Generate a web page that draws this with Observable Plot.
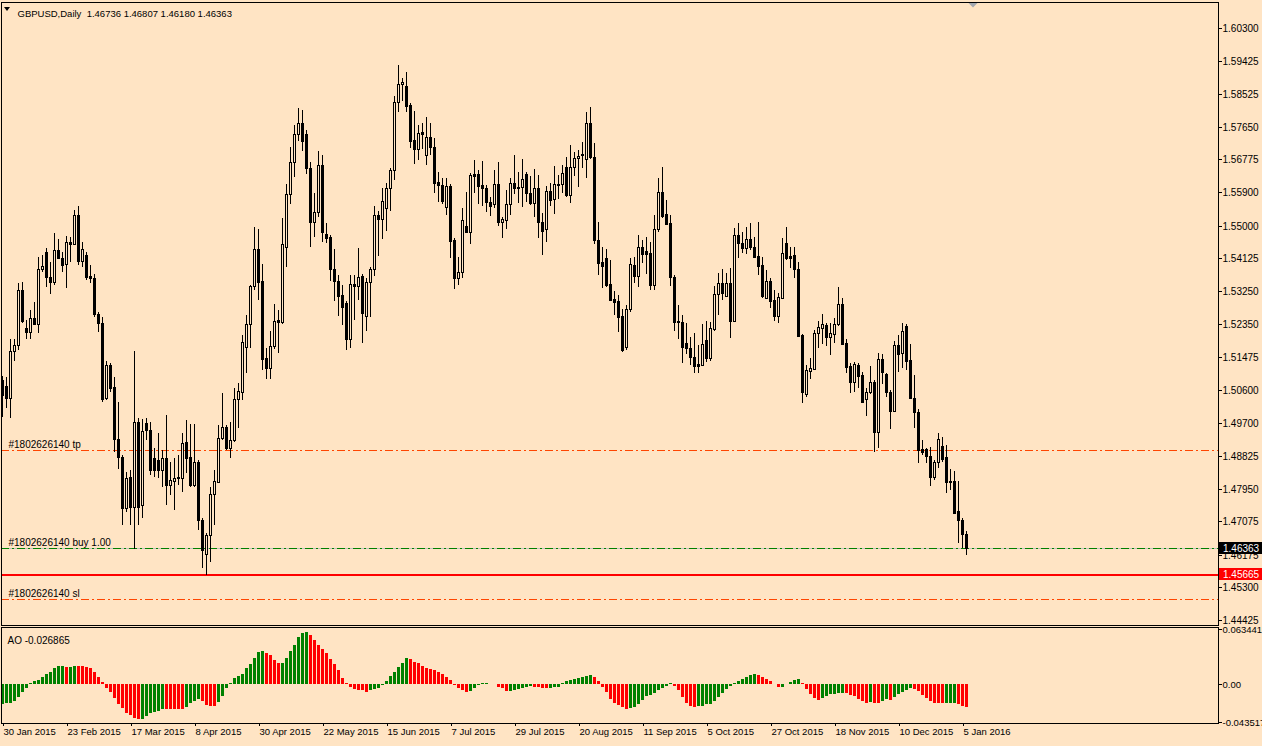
<!DOCTYPE html>
<html><head><meta charset="utf-8">
<script src="https://cdn.jsdelivr.net/npm/d3@7"></script>
<script src="https://cdn.jsdelivr.net/npm/@observablehq/plot@0.6"></script>
<style>
html,body{margin:0;padding:0;background:#FFE4C4;}
#wrap{position:relative;width:1262px;height:746px;overflow:hidden;background:#FFE4C4;}
#wrap svg{position:absolute;left:0;}
</style></head><body><div id="wrap"></div>
<script>
const symbolName = "GBPUSD,Daily";
const orderId = "#1802626140";
const dateLabels = ["30 Jan 2015","23 Feb 2015","17 Mar 2015","8 Apr 2015","30 Apr 2015","22 May 2015","15 Jun 2015","7 Jul 2015","29 Jul 2015","20 Aug 2015","11 Sep 2015","5 Oct 2015","27 Oct 2015","18 Nov 2015","10 Dec 2015","5 Jan 2016"];
const barsPerLabel = 16;
const priceTicks = [1.60300,1.59425,1.58525,1.57650,1.56775,1.55900,1.55000,1.54125,1.53250,1.52350,1.51475,1.50600,1.49700,1.48825,1.47950,1.47075,1.46175,1.45300,1.44425];
const aoTicks = [0.063441, 0, -0.043517];
const tpLevel = 1.4898, buyLevel = 1.46363, slLevel = 1.4499, bidLevel = 1.46363, redLevel = 1.45665;

const opens = [1.5086,1.5070,1.5038,1.5164,1.5180,1.5327,1.5226,1.5215,1.5252,1.5236,1.5384,1.5429,1.5362,1.5349,1.5435,1.5413,1.5397,1.5456,1.5451,1.5529,1.5405,1.5421,1.5365,1.5360,1.5263,1.5239,1.5038,1.5126,1.5067,1.4928,1.4880,1.4743,1.4826,1.4746,1.4973,1.4751,1.4971,1.4952,1.4877,1.4872,1.4845,1.4877,1.4805,1.4815,1.4826,1.4823,1.4920,1.4880,1.4805,1.4866,1.4711,1.4620,1.4670,1.4780,1.4813,1.4931,1.4960,1.4904,1.4925,1.5035,1.5054,1.5175,1.5236,1.5338,1.5437,1.5351,1.5145,1.5118,1.5177,1.5247,1.5242,1.5443,1.5585,1.5671,1.5746,1.5775,1.5746,1.5654,1.5510,1.5536,1.5663,1.5478,1.5470,1.5384,1.5351,1.5314,1.5292,1.5196,1.5344,1.5338,1.5365,1.5258,1.5349,1.5384,1.5529,1.5518,1.5547,1.5601,1.5649,1.5832,1.5880,1.5875,1.5823,1.5730,1.5705,1.5751,1.5689,1.5738,1.5711,1.5617,1.5609,1.5550,1.5606,1.5462,1.5360,1.5376,1.5499,1.5483,1.5638,1.5638,1.5609,1.5601,1.5563,1.5558,1.5612,1.5510,1.5515,1.5558,1.5614,1.5604,1.5604,1.5638,1.5588,1.5561,1.5601,1.5510,1.5491,1.5593,1.5571,1.5612,1.5612,1.5657,1.5582,1.5657,1.5681,1.5692,1.5679,1.5775,1.5684,1.5462,1.5403,1.5413,1.5344,1.5303,1.5298,1.5258,1.5175,1.5276,1.5395,1.5365,1.5443,1.5432,1.5427,1.5341,1.5491,1.5590,1.5531,1.5507,1.5362,1.5244,1.5242,1.5185,1.5172,1.5148,1.5129,1.5126,1.5193,1.5145,1.5223,1.5317,1.5346,1.5311,1.5346,1.5244,1.5475,1.5454,1.5440,1.5464,1.5443,1.5419,1.5395,1.5306,1.5351,1.5301,1.5258,1.5306,1.5454,1.5419,1.5421,1.5384,1.5207,1.5049,1.5110,1.5116,1.5212,1.5226,1.5234,1.5201,1.5209,1.5236,1.5290,1.5185,1.5124,1.5081,1.5126,1.5099,1.5035,1.5054,1.5081,1.4947,1.5142,1.5102,1.5054,1.5003,1.5180,1.5158,1.5231,1.5140,1.5038,1.5000,1.4901,1.4901,1.4882,1.4826,1.4866,1.4909,1.4880,1.4815,1.4815,1.4735,1.4711,1.46736];
const highs = [1.5097,1.5094,1.5196,1.5196,1.5346,1.5349,1.5247,1.5274,1.5295,1.5416,1.5421,1.5440,1.5403,1.5480,1.5464,1.5429,1.5472,1.5469,1.5542,1.5553,1.5456,1.5429,1.5395,1.5370,1.5268,1.5255,1.5137,1.5132,1.5094,1.5027,1.4885,1.4839,1.4845,1.5164,1.4984,1.4982,1.4984,1.4973,1.4904,1.4944,1.4898,1.4992,1.4866,1.4877,1.4885,1.4944,1.4979,1.4968,1.4968,1.4872,1.4716,1.4676,1.4799,1.4845,1.4965,1.5051,1.4965,1.4973,1.5065,1.5078,1.5207,1.5260,1.5341,1.5496,1.5491,1.5397,1.5172,1.5217,1.5290,1.5274,1.5520,1.5612,1.5711,1.5770,1.5815,1.5810,1.5756,1.5671,1.5588,1.5700,1.5689,1.5507,1.5475,1.5437,1.5368,1.5341,1.5298,1.5368,1.5368,1.5440,1.5370,1.5360,1.5389,1.5553,1.5539,1.5601,1.5614,1.5654,1.5848,1.5931,1.5896,1.5912,1.5829,1.5807,1.5770,1.5775,1.5791,1.5775,1.5735,1.5644,1.5628,1.5628,1.5612,1.5467,1.5416,1.5547,1.5591,1.5641,1.5676,1.5649,1.5673,1.5609,1.5577,1.5649,1.5671,1.5523,1.5596,1.5628,1.5689,1.5644,1.5679,1.5644,1.5633,1.5652,1.5636,1.5534,1.5606,1.5614,1.5660,1.5636,1.5663,1.5684,1.5716,1.5697,1.5703,1.5724,1.5805,1.5818,1.5722,1.5510,1.5443,1.5437,1.5408,1.5325,1.5314,1.5276,1.5287,1.5413,1.5416,1.5475,1.5462,1.5470,1.5456,1.5529,1.5628,1.5657,1.5569,1.5529,1.5368,1.5287,1.5260,1.5239,1.5201,1.5212,1.5180,1.5236,1.5244,1.5242,1.5338,1.5373,1.5384,1.5373,1.5386,1.5494,1.5507,1.5483,1.5496,1.5507,1.5470,1.5510,1.5416,1.5381,1.5360,1.5327,1.5319,1.5467,1.5496,1.5443,1.5443,1.5403,1.5209,1.5126,1.5145,1.5220,1.5244,1.5263,1.5239,1.5239,1.5252,1.5335,1.5306,1.5196,1.5132,1.5134,1.5132,1.5108,1.5065,1.5124,1.5086,1.5158,1.5156,1.5105,1.5059,1.5191,1.5207,1.5239,1.5236,1.5183,1.5099,1.5008,1.4925,1.4904,1.4907,1.4872,1.4944,1.4933,1.4912,1.4847,1.4842,1.4815,1.4716,1.46807];
const lows = [1.4987,1.5011,1.4984,1.5137,1.5167,1.5239,1.5196,1.5196,1.5234,1.5212,1.5376,1.5335,1.5317,1.5341,1.5411,1.5376,1.5333,1.5403,1.5448,1.5395,1.5389,1.5354,1.5346,1.5255,1.5215,1.5027,1.5032,1.5054,1.4893,1.4847,1.4697,1.4732,1.4697,1.4633,1.4697,1.4716,1.4925,1.4831,1.4826,1.4823,1.4799,1.4751,1.4778,1.4737,1.4805,1.4786,1.4837,1.4799,1.4799,1.4684,1.4582,1.4563,1.4598,1.4697,1.4810,1.4925,1.4898,1.4877,1.4920,1.4957,1.5032,1.5105,1.5172,1.5327,1.5301,1.5113,1.5089,1.5089,1.5169,1.5158,1.5236,1.5389,1.5558,1.5630,1.5727,1.5700,1.5638,1.5443,1.5470,1.5523,1.5456,1.5454,1.5351,1.5298,1.5258,1.5234,1.5167,1.5172,1.5247,1.5301,1.5185,1.5217,1.5255,1.5365,1.5419,1.5464,1.5486,1.5539,1.5622,1.5805,1.5834,1.5805,1.5708,1.5665,1.5676,1.5705,1.5663,1.5689,1.5588,1.5563,1.5558,1.5529,1.5413,1.5330,1.5341,1.5360,1.5480,1.5451,1.5588,1.5558,1.5553,1.5536,1.5526,1.5547,1.5499,1.5467,1.5491,1.5529,1.5585,1.5561,1.5550,1.5563,1.5555,1.5523,1.5467,1.5421,1.5456,1.5553,1.5531,1.5571,1.5588,1.5577,1.5561,1.5633,1.5604,1.5654,1.5628,1.5679,1.5451,1.5368,1.5333,1.5335,1.5298,1.5260,1.5215,1.5161,1.5167,1.5268,1.5346,1.5335,1.5400,1.5370,1.5327,1.5327,1.5483,1.5520,1.5502,1.5338,1.5217,1.5196,1.5132,1.5156,1.5126,1.5105,1.5105,1.5124,1.5134,1.5137,1.5217,1.5260,1.5301,1.5309,1.5199,1.5242,1.5413,1.5427,1.5424,1.5435,1.5413,1.5368,1.5306,1.5303,1.5279,1.5244,1.5239,1.5303,1.5408,1.5386,1.5360,1.5201,1.5024,1.5041,1.5089,1.5113,1.5172,1.5183,1.5177,1.5153,1.5185,1.5231,1.5180,1.5105,1.5051,1.5054,1.5065,1.5024,1.4990,1.5049,1.4893,1.4904,1.5075,1.5041,1.4955,1.5000,1.5108,1.5118,1.5113,1.5035,1.4957,1.4864,1.4885,1.4864,1.4802,1.4818,1.4850,1.4866,1.4783,1.4791,1.4727,1.4650,1.4636,1.46180];
const closes = [1.5046,1.5038,1.5164,1.5180,1.5327,1.5244,1.5215,1.5252,1.5236,1.5384,1.5392,1.5362,1.5349,1.5435,1.5413,1.5395,1.5456,1.5451,1.5529,1.5405,1.5437,1.5362,1.5360,1.5263,1.5239,1.5035,1.5126,1.5065,1.4928,1.4880,1.4743,1.4823,1.4746,1.4973,1.4746,1.4949,1.4952,1.4845,1.4845,1.4845,1.4877,1.4805,1.4818,1.4823,1.4823,1.4917,1.4877,1.4805,1.4866,1.4711,1.4630,1.4670,1.4780,1.4815,1.4931,1.4960,1.4904,1.4925,1.5035,1.5057,1.5188,1.5236,1.5338,1.5437,1.5349,1.5142,1.5118,1.5177,1.5244,1.5242,1.5451,1.5585,1.5671,1.5746,1.5775,1.5727,1.5654,1.5510,1.5536,1.5663,1.5483,1.5467,1.5384,1.5351,1.5311,1.5282,1.5196,1.5344,1.5338,1.5362,1.5266,1.5349,1.5384,1.5529,1.5518,1.5566,1.5601,1.5649,1.5832,1.5880,1.5885,1.5821,1.5727,1.5705,1.5749,1.5746,1.5738,1.5711,1.5614,1.5609,1.5566,1.5606,1.5459,1.5360,1.5376,1.5515,1.5483,1.5635,1.5633,1.5606,1.5601,1.5563,1.5553,1.5612,1.5510,1.5518,1.5558,1.5614,1.5601,1.5601,1.5625,1.5588,1.5561,1.5601,1.5510,1.5486,1.5593,1.5569,1.5612,1.5609,1.5641,1.5582,1.5657,1.5681,1.5687,1.5689,1.5775,1.5684,1.5462,1.5400,1.5392,1.5341,1.5301,1.5295,1.5255,1.5167,1.5276,1.5397,1.5365,1.5443,1.5424,1.5424,1.5341,1.5491,1.5590,1.5526,1.5505,1.5362,1.5242,1.5242,1.5175,1.5172,1.5148,1.5124,1.5124,1.5183,1.5145,1.5226,1.5317,1.5346,1.5319,1.5346,1.5244,1.5475,1.5454,1.5440,1.5464,1.5443,1.5416,1.5392,1.5311,1.5351,1.5298,1.5258,1.5309,1.5427,1.5413,1.5413,1.5384,1.5204,1.5054,1.5113,1.5118,1.5212,1.5228,1.5236,1.5201,1.5212,1.5236,1.5290,1.5183,1.5121,1.5081,1.5129,1.5097,1.5027,1.5054,1.5081,1.4947,1.5142,1.5108,1.5054,1.5003,1.5180,1.5156,1.5217,1.5137,1.5038,1.5000,1.4898,1.4893,1.4882,1.4826,1.4866,1.4928,1.4874,1.4813,1.4813,1.4729,1.4711,1.4673,1.46363];
const ao = [-0.0234,-0.0222,-0.0215,-0.0196,-0.0146,-0.0088,-0.0042,0.0008,0.0035,0.0046,0.0084,0.0115,0.0142,0.0180,0.0203,0.0207,0.0192,0.0199,0.0207,0.0206,0.0204,0.0192,0.0180,0.0134,0.0084,0.0027,-0.0042,-0.0088,-0.0157,-0.0230,-0.0280,-0.0337,-0.0357,-0.0387,-0.0406,-0.0403,-0.0364,-0.0337,-0.0326,-0.0311,-0.0288,-0.0289,-0.0290,-0.0291,-0.0292,-0.0293,-0.0261,-0.0222,-0.0196,-0.0173,-0.0196,-0.0242,-0.0249,-0.0251,-0.0203,-0.0134,-0.0050,0.0008,0.0065,0.0092,0.0115,0.0180,0.0230,0.0303,0.0372,0.0383,0.0360,0.0334,0.0280,0.0238,0.0245,0.0303,0.0383,0.0449,0.0544,0.0590,0.0602,0.0564,0.0506,0.0449,0.0403,0.0353,0.0288,0.0230,0.0161,0.0073,0.0010,-0.0038,-0.0061,-0.0065,-0.0069,-0.0088,-0.0069,-0.0061,-0.0050,-0.0012,0.0038,0.0096,0.0142,0.0199,0.0245,0.0295,0.0290,0.0257,0.0238,0.0211,0.0180,0.0173,0.0161,0.0142,0.0111,0.0084,0.0046,-0.0008,-0.0050,-0.0069,-0.0088,-0.0084,-0.0050,-0.0015,0.0008,0.0010,0.0004,-0.0004,-0.0031,-0.0050,-0.0077,-0.0075,-0.0065,-0.0061,-0.0042,-0.0031,-0.0023,-0.0031,-0.0035,-0.0042,-0.0050,-0.0042,-0.0040,-0.0031,0.0012,0.0035,0.0046,0.0061,0.0073,0.0081,0.0092,0.0104,0.0081,0.0035,-0.0031,-0.0088,-0.0169,-0.0215,-0.0242,-0.0261,-0.0284,-0.0280,-0.0261,-0.0226,-0.0180,-0.0134,-0.0123,-0.0100,-0.0065,-0.0046,-0.0027,0.0008,-0.0019,-0.0073,-0.0146,-0.0215,-0.0249,-0.0261,-0.0258,-0.0255,-0.0234,-0.0226,-0.0192,-0.0146,-0.0100,-0.0054,-0.0019,0.0012,0.0035,0.0058,0.0084,0.0104,0.0115,0.0104,0.0081,0.0058,0.0035,-0.0004,-0.0031,-0.0029,-0.0004,0.0023,0.0046,0.0058,0.0008,-0.0054,-0.0111,-0.0157,-0.0180,-0.0157,-0.0134,-0.0115,-0.0113,-0.0100,-0.0098,-0.0107,-0.0127,-0.0142,-0.0169,-0.0192,-0.0215,-0.0203,-0.0215,-0.0217,-0.0192,-0.0169,-0.0180,-0.0146,-0.0111,-0.0088,-0.0065,-0.0042,-0.0054,-0.0077,-0.0123,-0.0157,-0.0192,-0.0215,-0.0216,-0.0217,-0.0215,-0.0214,-0.0213,-0.0226,-0.0249,-0.026865];

const bg = "#FFE4C4";
const fontFam = '"Liberation Sans", Arial, sans-serif';
const xDom = [-0.25, 304];
const shiftIndex = 242.75;
const wrap = document.getElementById("wrap");
const bars = opens.map((o, i) => ({i, o, h: highs[i], l: lows[i], c: closes[i]}));
const last = bars[bars.length - 1];
const header = `${symbolName}  ${last.o.toFixed(5)} ${last.h.toFixed(5)} ${last.l.toFixed(5)} ${last.c.toFixed(5)}`;
const orderLabels = [
  {t: orderId + " tp", v: tpLevel},
  {t: orderId + " buy 1.00", v: buyLevel},
  {t: orderId + " sl", v: slLevel}
];
const baseStyle = {background: "transparent", fontFamily: fontFam, fontSize: "10px", color: "#000", overflow: "visible"};
const crisp = {shapeRendering: "crispEdges"};

const main = Plot.plot({
  width: 1262, height: 626,
  marginLeft: 1, marginRight: 44, marginTop: 2, marginBottom: 1,
  style: baseStyle,
  x: {domain: xDom, axis: null},
  y: {domain: [1.44290, 1.60997], round: true},
  marks: [
    Plot.ruleY([bidLevel], {stroke: "#C0C0C0", ...crisp}),
    Plot.ruleY([tpLevel, slLevel], {stroke: "#FF4500", strokeDasharray: "8,3,2,3", ...crisp}),
    Plot.ruleY([buyLevel], {stroke: "#008000", strokeDasharray: "8,3,2,3", ...crisp}),
    Plot.ruleY([redLevel], {stroke: "#FF0000", strokeWidth: 2, ...crisp}),
    Plot.text(orderLabels, {frameAnchor: "left", y: "v", text: "t", dx: 7, dy: -6, textAnchor: "start", fill: "#000", fontSize: 10}),
    Plot.ruleX(bars, {x: "i", y1: "l", y2: "h", stroke: "#000", ...crisp}),
    Plot.rect(bars, {x1: d => d.i - 0.25, x2: d => d.i + 0.25, y1: "o", y2: "c", fill: d => d.c > d.o ? bg : "#000", stroke: "#000", inset: 0, ...crisp}),
    Plot.axisY({anchor: "right", ticks: priceTicks, tickFormat: d => d.toFixed(5), tickSize: 3, tickPadding: 1, label: null}),
    Plot.text([header], {frameAnchor: "top-left", dx: 16, dy: 8, textAnchor: "start", fill: "#000", fontSize: 9.5}),
    Plot.frame({stroke: "#000", ...crisp})
  ]
});
main.style.top = "0px";
wrap.appendChild(main);

// price tags on the right axis, header triangle, chart-shift marker
const ysMain = main.scale("y");
const xsMain = main.scale("x");
const svgM = d3.select(main);
function tag(v, fill) {
  const y = Math.round(ysMain.apply(v));
  const x0 = xsMain.apply(xDom[1]) + 1;
  svgM.append("rect").attr("x", x0).attr("y", y - 6).attr("width", 1262 - x0).attr("height", 12).attr("fill", fill);
  svgM.append("text").attr("x", x0 + 4).attr("y", y).attr("dy", "0.36em").attr("fill", "#fff")
    .attr("text-anchor", "start").style("font-family", fontFam).style("font-size", "10px").text(v.toFixed(5));
}
tag(bidLevel, "#000");
tag(redLevel, "#FF0000");
const sx = xsMain.apply(shiftIndex);
svgM.append("path").attr("d", `M${sx - 4.5},3 L${sx + 4.5},3 L${sx},7.5 Z`).attr("fill", "#A3A8B0");
svgM.append("path").attr("d", "M4,7 L10,7 L7,11 Z").attr("fill", "#000");

const aoData = ao.map((v, i) => ({i, v, up: i === 0 ? true : v > ao[i - 1]}));
const aoPlot = Plot.plot({
  width: 1262, height: 120,
  marginLeft: 1, marginRight: 44, marginTop: 1, marginBottom: 23,
  style: baseStyle,
  x: {domain: xDom},
  y: {domain: [-0.04485, 0.06555], round: true},
  marks: [
    Plot.rect(aoData, {x1: d => d.i - 0.375, x2: d => d.i + 0.375, y1: 0, y2: "v", fill: d => d.up ? "#008000" : "#FF0000", dy: -0.5, inset: 0, ...crisp}),
    Plot.axisY({anchor: "right", ticks: aoTicks, tickFormat: d => d === 0 ? "0.00" : d.toFixed(6), tickSize: 3, tickPadding: 1, label: null, fontSize: 9.5}),
    Plot.axisX({ticks: dateLabels.map((_, k) => k * barsPerLabel), tickFormat: d => dateLabels[d / barsPerLabel], textAnchor: "start", tickSize: 3, tickPadding: 2, dx: 1, label: null, fontSize: 9.5}),
    Plot.text(["AO " + ao[ao.length - 1].toFixed(6)], {frameAnchor: "top-left", dx: 6, dy: 9, textAnchor: "start", fill: "#000", fontSize: 10}),
    Plot.frame({stroke: "#000", ...crisp})
  ]
});
aoPlot.style.top = "626px";
wrap.appendChild(aoPlot);
</script>
</body></html>
